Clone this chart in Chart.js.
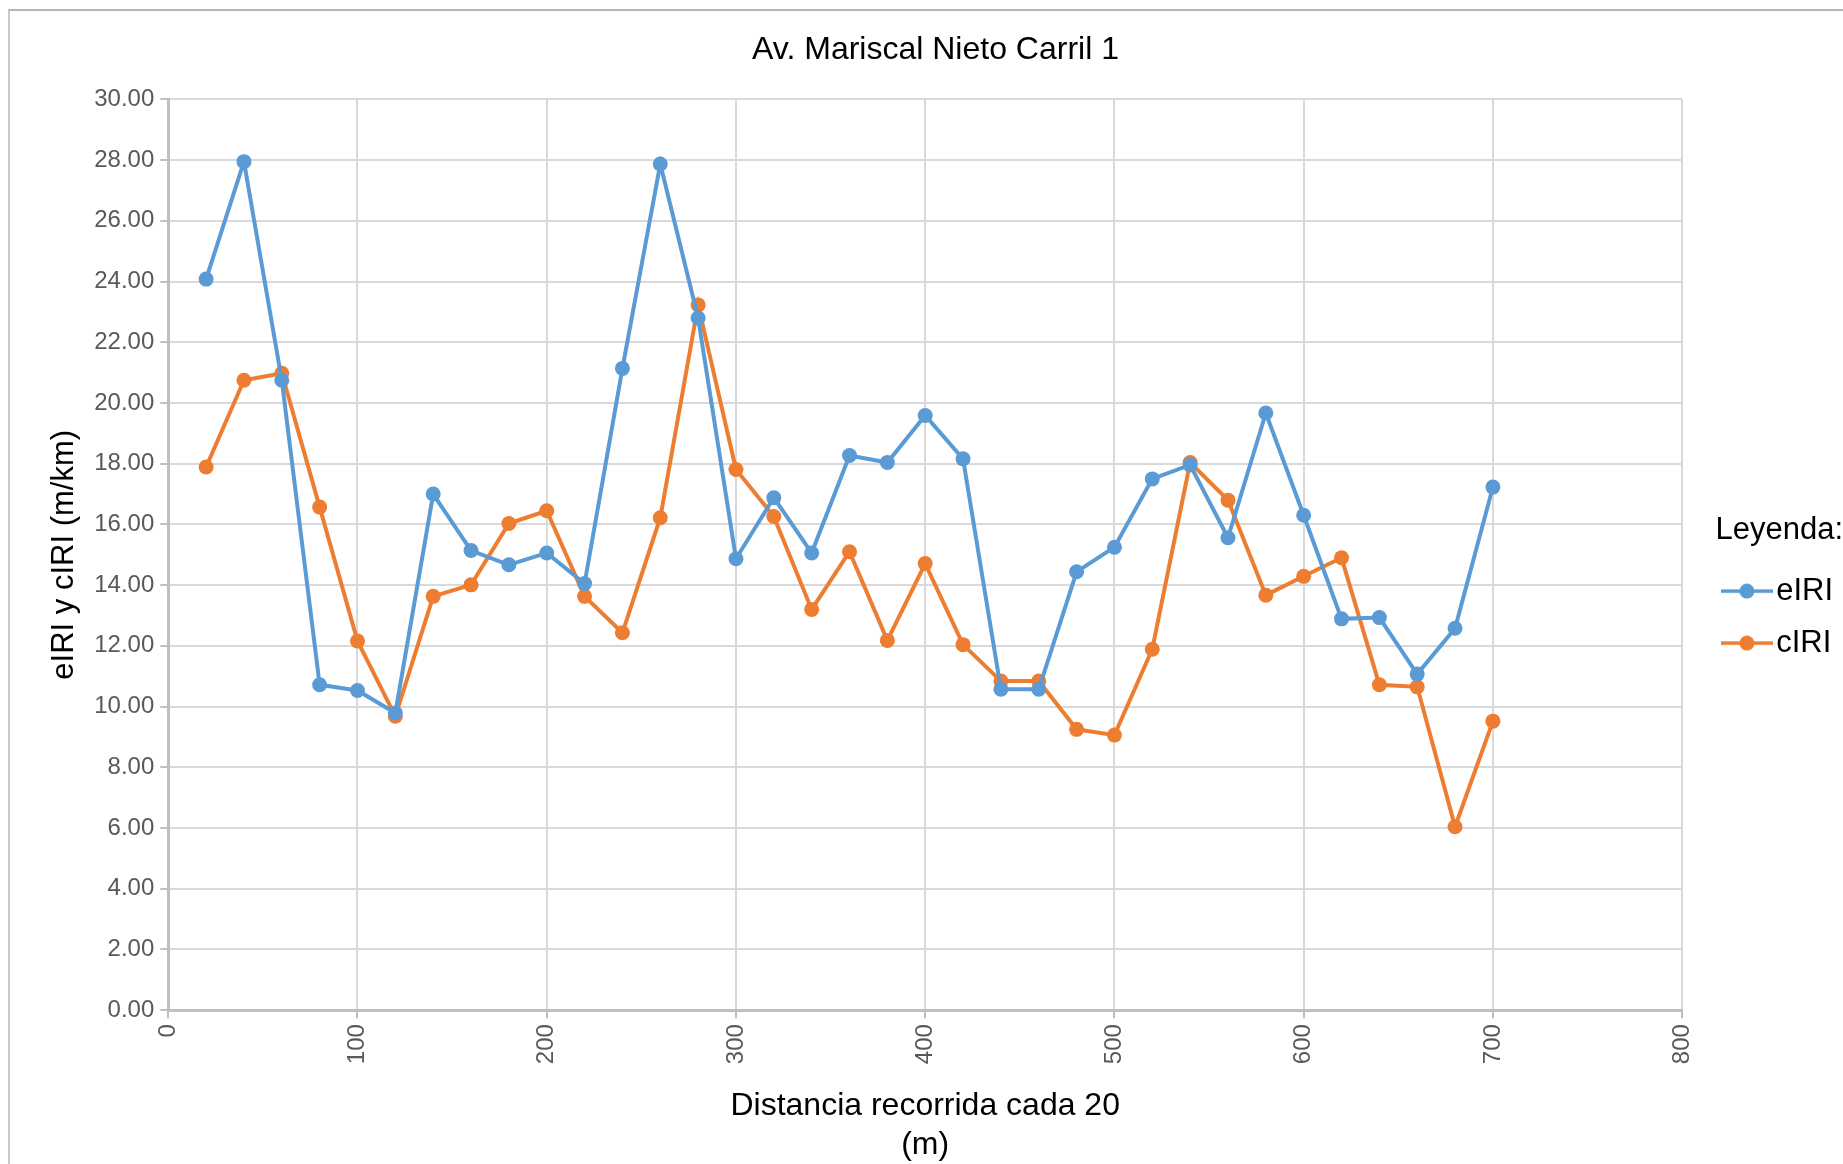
<!DOCTYPE html>
<html>
<head>
<meta charset="utf-8">
<script src="https://cdn.jsdelivr.net/npm/chart.js@4"></script>
<style>
    body { margin: 0; background: #fff; }
    #wrap { position: relative; width: 1843px; height: 1164px; }
    #frame { position: absolute; left: 8px; top: 9px; right: 0; bottom: 0; border-left: 2px solid #c8c8c8; border-top: 2px solid #b4b4b4; }
    #chart_iri { position: absolute; left: 0; top: 0; }
</style>
</head>
<body>
<div id="wrap">
    <div id="frame"></div>
    <canvas id="chart_iri" width="1843" height="1164"></canvas>
</div>
<script>
/* ----------------------------------------------------------------------------
                                     DATA
---------------------------------------------------------------------------- */
var distances = [20, 40, 60, 80, 100, 120, 140, 160, 180, 200, 220, 240, 260, 280, 300, 320, 340, 360,
                 380, 400, 420, 440, 460, 480, 500, 520, 540, 560, 580, 600, 620, 640, 660, 680, 700];
var eIRI = [24.08, 27.95, 20.75, 10.72, 10.53, 9.79, 17.00, 15.14, 14.67, 15.06, 14.05, 21.14, 27.87, 22.80,
            14.87, 16.88, 15.06, 18.27, 18.04, 19.59, 18.16, 10.57, 10.57, 14.44, 15.25, 17.50, 17.96, 15.56,
            19.67, 16.30, 12.89, 12.93, 11.07, 12.58, 17.23];
var cIRI = [17.89, 20.75, 20.98, 16.57, 12.16, 9.68, 13.63, 14.01, 16.03, 16.45, 13.63, 12.43, 16.22, 23.23,
            17.81, 16.26, 13.20, 15.10, 12.18, 14.71, 12.04, 10.84, 10.84, 9.25, 9.06, 11.89, 18.04, 16.80,
            13.67, 14.29, 14.90, 10.72, 10.65, 6.04, 9.52];
var seriesNames = ['eIRI', 'cIRI'];
var xTicks = [0, 100, 200, 300, 400, 500, 600, 700, 800];
var yTicks = [0, 2, 4, 6, 8, 10, 12, 14, 16, 18, 20, 22, 24, 26, 28, 30];

var colors = ['#5B9BD5', '#ED7D31', '#d9d9d9', '#bfbfbf', '#595959', '#000000'];
var fontName = '"Liberation Sans", Arial, sans-serif';

/* ----------------------------------------------------------------------------
                                    MAIN
---------------------------------------------------------------------------- */

// Legend icons (line with a dot), shifted right inside a wider canvas --------
function legendIcon(color) {
    var c = document.createElement('canvas');
    c.width = 82; c.height = 16;
    var g = c.getContext('2d');
    g.strokeStyle = color;
    g.lineWidth = 3.5;
    g.beginPath(); g.moveTo(30, 8); g.lineTo(82, 8); g.stroke();
    g.fillStyle = color;
    g.beginPath(); g.arc(56, 8, 7.5, 0, Math.PI * 2); g.fill();
    return c;
}

function toPoints(values) {
    return distances.map(function(d, i) { return {x: d, y: values[i]}; });
}

function lineDataset(name, values, color) {
    return {
        label: name,
        data: toPoints(values),
        borderColor: color,
        backgroundColor: color,
        pointBackgroundColor: color,
        pointBorderWidth: 0,
        borderWidth: 4,
        pointRadius: 7.5,
        tension: 0
    };
}

const ctx_iri = document.getElementById('chart_iri').getContext('2d');
const chartIRI = new Chart(ctx_iri, {
    type: 'line',
    data: {
        datasets: [
            lineDataset(seriesNames[0], eIRI, colors[0]),
            lineDataset(seriesNames[1], cIRI, colors[1])
        ]
    },
    options: {
        responsive: false,
        animation: false,
        layout: {
            padding: {left: 28, right: 0, top: 31, bottom: 0}
        },
        plugins: {
            title: {
                display: true,
                text: 'Av. Mariscal Nieto Carril 1',
                color: colors[5],
                font: {family: fontName, size: 32, weight: 'normal'},
                padding: {top: 0, bottom: 30}
            },
            legend: {
                position: 'right',
                align: 'center',
                title: {
                    display: true,
                    position: 'end',
                    text: 'Leyenda:',
                    color: colors[5],
                    font: {family: fontName, size: 31, weight: 'normal'},
                    padding: {top: 0, bottom: 2}
                },
                labels: {
                    color: colors[5],
                    font: {family: fontName, size: 31},
                    usePointStyle: true,
                    pointStyleWidth: 57.5,
                    padding: 21,
                    generateLabels: function(chart) {
                        return chart.data.datasets.map(function(ds, i) {
                            return {
                                text: ds.label,
                                pointStyle: legendIcon(ds.borderColor),
                                fillStyle: ds.borderColor,
                                strokeStyle: ds.borderColor,
                                lineWidth: 0,
                                fontColor: colors[5],
                                datasetIndex: i
                            };
                        });
                    }
                }
            },
            tooltip: {enabled: false}
        },
        scales: {
            x: {
                type: 'linear',
                min: xTicks[0],
                max: xTicks[xTicks.length - 1],
                afterBuildTicks: function(axis) {
                    axis.ticks = xTicks.map(function(v) { return {value: v}; });
                },
                grid: {
                    color: colors[2],
                    lineWidth: 2,
                    tickLength: 8,
                    tickColor: colors[3]
                },
                border: {color: colors[3], width: 3},
                ticks: {
                    color: colors[4],
                    font: {family: fontName, size: 24},
                    maxRotation: 90,
                    minRotation: 90,
                    padding: 6,
                    callback: function(v) { return v; }
                },
                title: {
                    display: true,
                    text: ['Distancia recorrida cada 20', '(m)'],
                    color: colors[5],
                    font: {family: fontName, size: 32},
                    padding: {top: 17, bottom: 0}
                }
            },
            y: {
                min: yTicks[0],
                max: yTicks[yTicks.length - 1],
                afterBuildTicks: function(axis) {
                    axis.ticks = yTicks.map(function(v) { return {value: v}; });
                },
                grid: {
                    color: colors[2],
                    lineWidth: 2,
                    tickLength: 8,
                    tickColor: colors[3]
                },
                border: {color: colors[3], width: 3},
                ticks: {
                    color: colors[4],
                    font: {family: fontName, size: 24},
                    padding: 6,
                    callback: function(v) { return v.toFixed(2); }
                },
                title: {
                    display: true,
                    text: 'eIRI y cIRI (m/km)',
                    color: colors[5],
                    font: {family: fontName, size: 31},
                    padding: {top: 18, bottom: 5}
                }
            }
        }
    }
});
</script>
</body>
</html>
